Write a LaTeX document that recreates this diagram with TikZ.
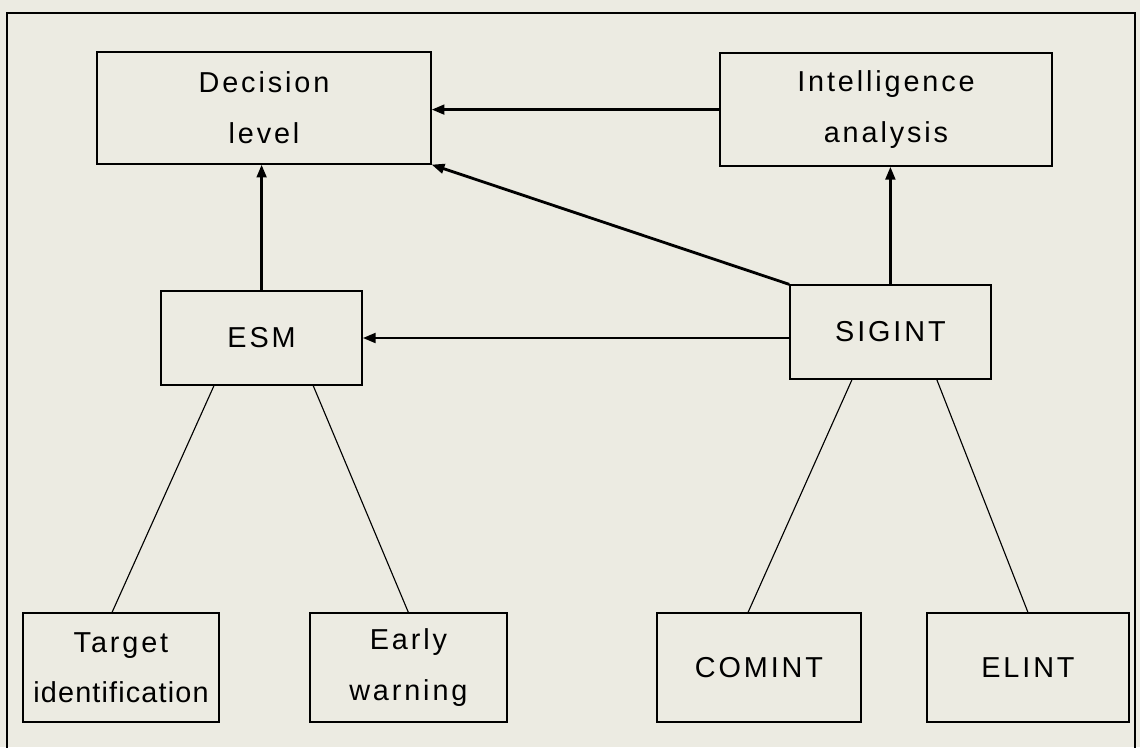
\documentclass[tikz,border=0pt]{standalone}
\usepackage{fontspec}
\newfontfamily\boxfont[LetterSpace=10]{Liberation Sans}
\usetikzlibrary{arrows.meta}
\definecolor{paper}{RGB}{236,235,226}

\begin{document}
\begin{tikzpicture}[y=-1cm,
	box/.style={draw,line width=0.9pt,align=center,inner sep=0pt,font=\boxfont\fontsize{20.5}{36}\selectfont},
	flow/.style={line width=2pt,-{Triangle[length=0.32cm,width=0.24cm]}},
	link/.style={line width=0.8pt}]
	\fill[paper] (0,0) rectangle (28.5,18.675);
	\useasboundingbox (0,0) rectangle (28.5,18.675);
	\draw[line width=1.1pt] (0.175,0.325) rectangle (28.375,19.5);

	\node[box,minimum width=8.35cm,minimum height=2.8cm] (decision) at (6.6,2.7) {Decision\\level};
	\node[box,minimum width=8.3cm,minimum height=2.825cm] (intel) at (22.15,2.74) {Intelligence\\analysis};
	\node[box,minimum width=5.025cm,minimum height=2.35cm] (esm) at (6.54,8.45) {ESM};
	\node[box,minimum width=5.025cm,minimum height=2.35cm] (sigint) at (22.26,8.3) {SIGINT};
	\node[box,minimum width=4.9cm,minimum height=2.725cm] (target) at (3.025,16.69) {Target\\\addfontfeature{LetterSpace=4}identification};
	\node[box,minimum width=4.925cm,minimum height=2.725cm] (early) at (10.21,16.69) {Early\\warning};
	\node[box,minimum width=5.1cm,minimum height=2.725cm] (comint) at (18.975,16.69) {COMINT};
	\node[box,minimum width=5.05cm,minimum height=2.725cm] (elint) at (25.7,16.69) {ELINT};

	% arrows
	\draw[flow] (intel.west) -- (intel.west -| decision.east);
	\draw[flow] (sigint.north) -- (sigint.north |- intel.south);
	\draw[flow] (sigint.north west) -- (decision.south east);
	\draw[flow] (sigint.west |- esm) -- (esm.east);
	\draw[flow] (esm.north) -- (esm.north |- decision.south);

	\draw[link] ([xshift=-1.19cm]esm.south) -- ([xshift=-0.225cm]target.north);
	\draw[link] ([xshift=1.29cm]esm.south) -- (early.north);
	\draw[link] ([xshift=-0.96cm]sigint.south) -- ([xshift=-0.275cm]comint.north);
	\draw[link] ([xshift=1.16cm]sigint.south) -- (elint.north);
\end{tikzpicture}
\end{document}
